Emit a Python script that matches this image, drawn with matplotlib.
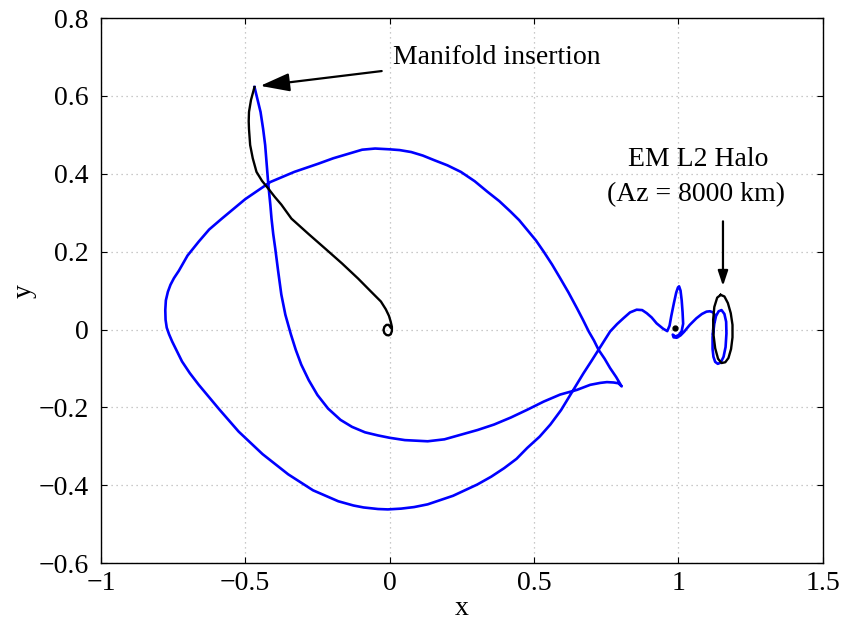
import matplotlib.pyplot as plt

plt.rcParams['font.family'] = ['Liberation Serif', 'DejaVu Serif']

# blue manifold trajectory: insertion point -> around the Earth -> lunar flyby -> halo
blue_x = [-0.468, -0.457, -0.447, -0.438, -0.431, -0.425, -0.420, -0.413,
          -0.409, -0.403, -0.396, -0.386, -0.375, -0.361, -0.342, -0.325,
          -0.306, -0.280, -0.250, -0.213, -0.170, -0.130, -0.085, -0.040,
          0.000, 0.053, 0.132, 0.190, 0.247, 0.305, 0.362, 0.420, 0.477,
          0.534, 0.591, 0.649, 0.695, 0.730, 0.753, 0.776, 0.793, 0.804,
          0.785, 0.764, 0.745, 0.724, 0.708, 0.690, 0.670, 0.649, 0.620,
          0.591, 0.563, 0.534, 0.507, 0.477, 0.449, 0.419, 0.380, 0.339,
          0.295, 0.247, 0.200, 0.155, 0.115, 0.075, 0.035, 0.000, -0.050,
          -0.095, -0.140, -0.195, -0.247, -0.330, -0.413, -0.500, -0.581,
          -0.625, -0.661, -0.700, -0.730, -0.747, -0.759, -0.768, -0.775,
          -0.777, -0.776, -0.772, -0.764, -0.753, -0.737, -0.719, -0.692,
          -0.661, -0.625, -0.590, -0.523, -0.440, -0.351, -0.265, -0.178,
          -0.125, -0.090, -0.040, -0.006, 0.040, 0.085, 0.132, 0.220,
          0.304, 0.352, 0.397, 0.440, 0.477, 0.520, 0.557, 0.594, 0.626,
          0.672, 0.700, 0.724, 0.745, 0.764, 0.788, 0.810, 0.833, 0.856,
          0.875, 0.891, 0.908, 0.925, 0.948, 0.962,
          0.970, 0.976, 0.985, 0.993, 0.999, 1.003, 1.008, 1.012, 1.015,
          1.017, 1.012, 1.002, 0.990, 0.981, 0.984, 0.995, 1.008, 1.020,
          1.040, 1.063, 1.082, 1.098, 1.110, 1.121, 1.126,
          1.122, 1.119, 1.119, 1.122, 1.128, 1.137, 1.147, 1.157, 1.164,
          1.167, 1.166, 1.160, 1.150, 1.140, 1.131, 1.125, 1.121]
blue_y = [0.623, 0.590, 0.559, 0.515, 0.474, 0.420, 0.372, 0.320,
          0.285, 0.245, 0.208, 0.150, 0.090, 0.038, -0.012, -0.052,
          -0.090, -0.130, -0.168, -0.203, -0.232, -0.250, -0.264, -0.272,
          -0.278, -0.284, -0.287, -0.282, -0.270, -0.258, -0.244, -0.226,
          -0.206, -0.185, -0.167, -0.155, -0.142, -0.137, -0.135, -0.136,
          -0.138, -0.146,
          -0.122, -0.099, -0.075, -0.052, -0.028, -0.005, 0.025, 0.055,
          0.095, 0.132, 0.167, 0.200, 0.229, 0.256, 0.281, 0.303, 0.330,
          0.354, 0.381, 0.405, 0.422, 0.435, 0.447, 0.456, 0.461, 0.463,
          0.465, 0.462, 0.452, 0.440, 0.426, 0.405, 0.379, 0.335, 0.285,
          0.257, 0.226, 0.190, 0.151, 0.132, 0.115, 0.097, 0.075, 0.050,
          0.025, 0.005, -0.012, -0.031, -0.055, -0.082, -0.112, -0.142,
          -0.174, -0.205, -0.262, -0.320, -0.372, -0.413, -0.441, -0.452,
          -0.457, -0.461, -0.462, -0.460, -0.456, -0.449, -0.427, -0.398,
          -0.378, -0.356, -0.332, -0.304, -0.275, -0.244, -0.207, -0.168,
          -0.112, -0.080, -0.052, -0.027, -0.005, 0.014, 0.029, 0.044, 0.051,
          0.050, 0.042, 0.031, 0.016, 0.002, -0.004,
          0.010, 0.035, 0.068, 0.095, 0.108, 0.111, 0.100, 0.075, 0.045,
          0.015, -0.004, -0.014, -0.018, -0.013, -0.020, -0.021, -0.015,
          -0.006, 0.012, 0.029, 0.040, 0.046, 0.047, 0.044, 0.038,
          0.010, -0.020, -0.050, -0.070, -0.083, -0.088, -0.085, -0.070,
          -0.045, -0.010, 0.020, 0.040, 0.050, 0.047, 0.035, 0.015, -0.010]

# black transfer from the Earth parking orbit to the insertion point
black_x = [-0.468, -0.480, -0.487, -0.488, -0.487, -0.483, -0.474, -0.461,
           -0.442, -0.420, -0.398, -0.375, -0.340, -0.280, -0.223, -0.165,
           -0.109, -0.065, -0.030, -0.013, -0.002, 0.004, 0.008, 0.008,
           0.004, -0.003, -0.011, -0.018, -0.021, -0.018, -0.011, -0.003,
           0.003]
black_y = [0.623, 0.590, 0.559, 0.535, 0.515, 0.474, 0.440, 0.405,
           0.382, 0.362, 0.341, 0.321, 0.285, 0.245, 0.208, 0.170,
           0.131, 0.098, 0.072, 0.052, 0.035, 0.020, 0.007, -0.004,
           -0.012, -0.015, -0.014, -0.009, -0.001, 0.007, 0.012, 0.012,
           0.006]

# target halo orbit
halo_x = [1.147, 1.160, 1.172, 1.182, 1.188, 1.188, 1.183, 1.174, 1.163,
          1.150, 1.138, 1.128, 1.122, 1.121, 1.125, 1.135, 1.147]
halo_y = [0.089, 0.085, 0.068, 0.042, 0.012, -0.020, -0.050, -0.073,
          -0.084, -0.086, -0.075, -0.048, -0.012, 0.025, 0.058, 0.082, 0.089]

moon = (0.988, 0.003)

fig = plt.figure(figsize=(8.48, 6.25), dpi=100)
ax = fig.add_axes([0.119, 0.099, 0.851, 0.872])

ax.plot(blue_x, blue_y, color='#0000ff', lw=1.9)
ax.plot(black_x, black_y, color='k', lw=1.7)
ax.plot(halo_x, halo_y, color='k', lw=1.7)
ax.plot(*moon, 'o', color='k', ms=3.5)

ax.set_xlim(-1, 1.5)
ax.set_ylim(-0.6, 0.8)
ax.set_xticks([-1, -0.5, 0, 0.5, 1, 1.5])
ax.set_yticks([-0.6, -0.4, -0.2, 0, 0.2, 0.4, 0.6, 0.8])
ax.set_xticklabels(['\u22121', '\u22120.5', '0', '0.5', '1', '1.5'])
ax.set_yticklabels(['\u22120.6', '\u22120.4', '\u22120.2', '0', '0.2', '0.4',
                    '0.6', '0.8'])
ax.tick_params(direction='in', top=True, right=True, labelsize=20,
               length=4, width=0.8)
ax.tick_params(axis='y', pad=9)
ax.tick_params(axis='x', pad=6)
ax.grid(True, color='#b8b8b8', linestyle=(0, (1, 3)), lw=0.9)
for s in ax.spines.values():
    s.set_linewidth(1.0)

ax.set_xlabel('x', fontsize=20, labelpad=0)
ax.set_ylabel('y', fontsize=20, labelpad=1)

ax.annotate('Manifold insertion', xy=(-0.448, 0.626), xytext=(0.011, 0.700),
            fontsize=20, va='center', ha='left',
            arrowprops=dict(arrowstyle='-|>,head_length=0.9,head_width=0.28',
                            color='k', lw=1.6, shrinkA=6, shrinkB=0))
ax.text(1.07, 0.436, 'EM L2 Halo', fontsize=20, ha='center', va='center')
ax.text(1.061, 0.346, '(Az = 8000 km)', fontsize=20, ha='center',
        va='center')
ax.annotate('', xy=(1.155, 0.112), xytext=(1.155, 0.278),
            arrowprops=dict(arrowstyle='-|>,head_length=0.9,head_width=0.3',
                            color='k', lw=1.6, shrinkA=0, shrinkB=0))

fig.savefig('out.png', dpi=100)
